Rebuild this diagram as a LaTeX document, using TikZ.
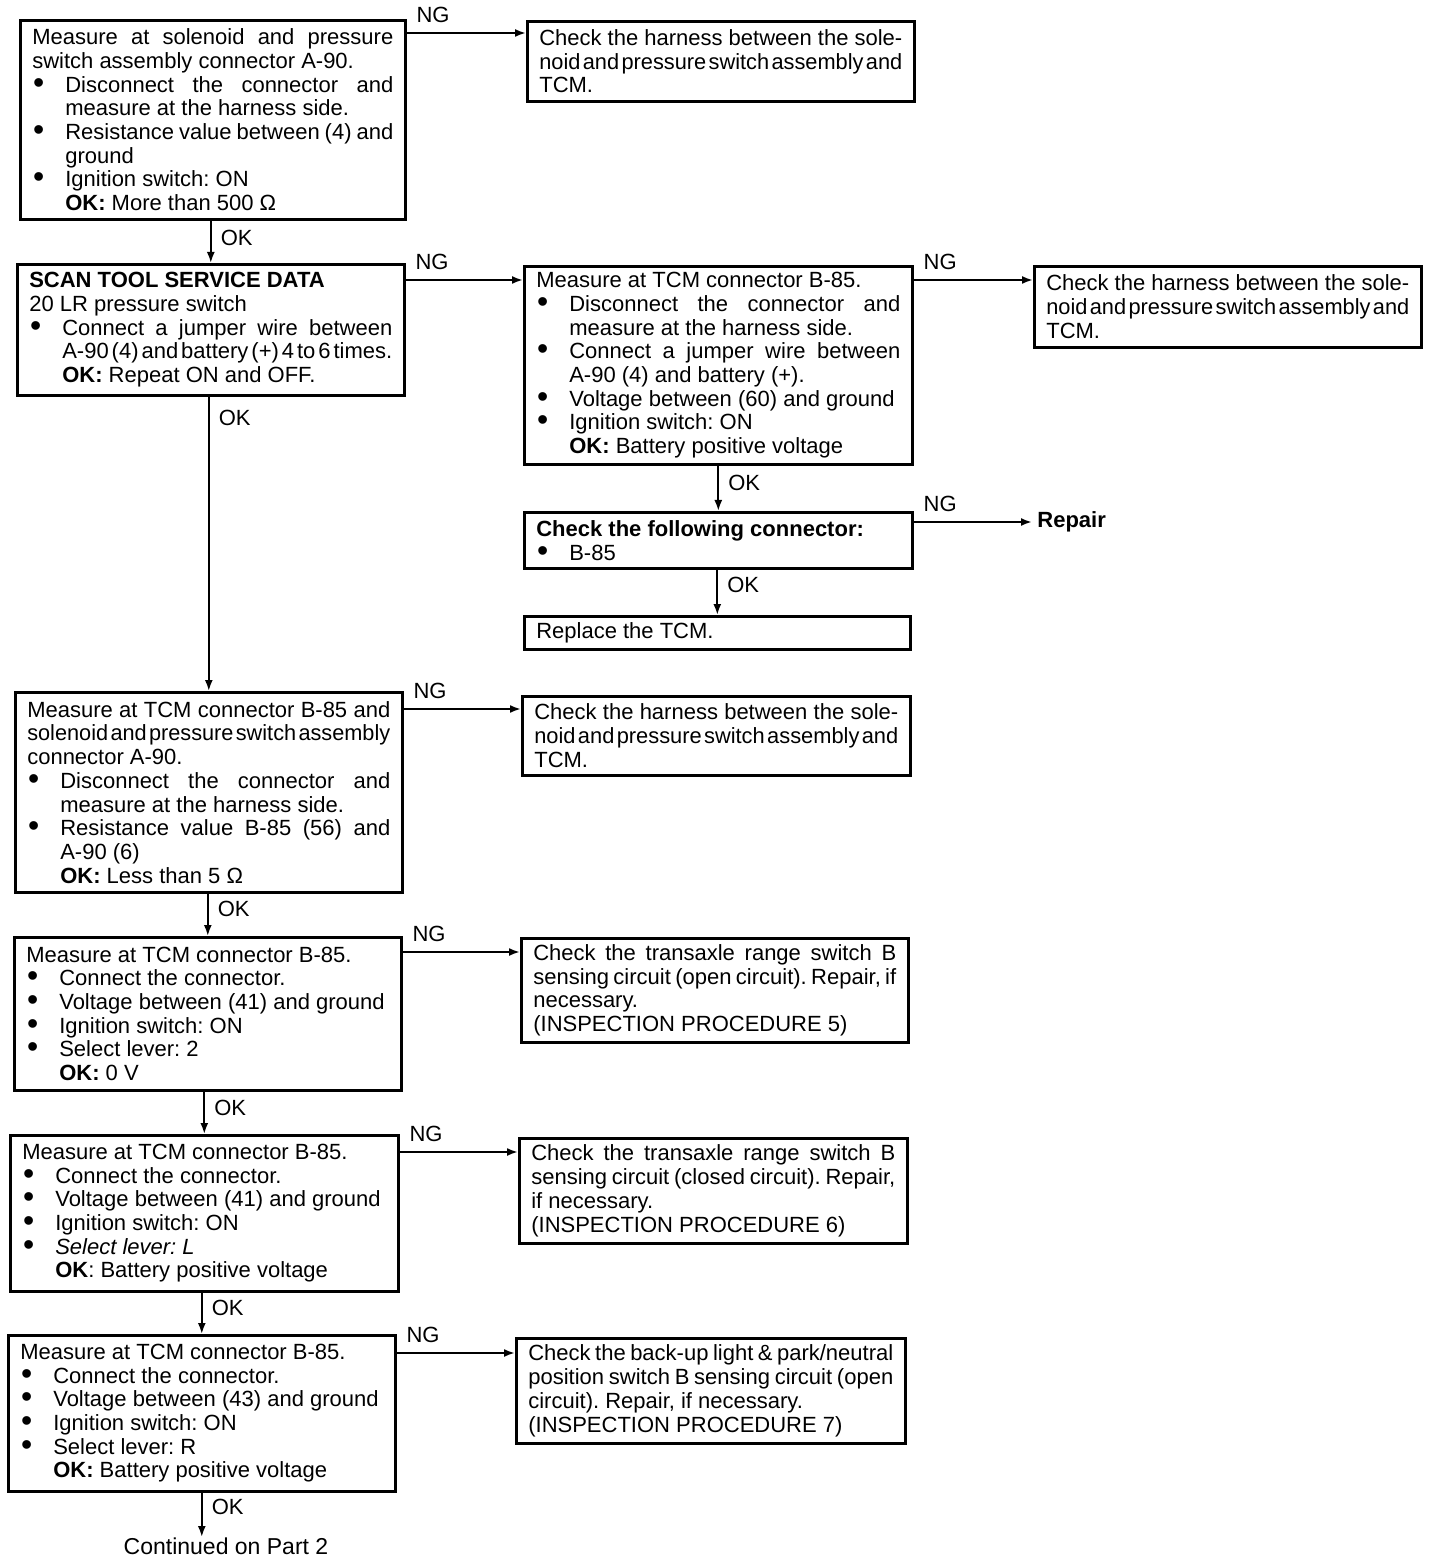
\documentclass[tikz,border=0pt]{standalone}
\usepackage{fontspec}
\setmainfont{Liberation Sans}
\usepackage{graphicx}
\usetikzlibrary{arrows.meta,calc}
\newsavebox\jbox
\newlength\jw
\newlength\bind \setlength\bind{16.5pt}
\newcommand\jl[2]{\setlength\jw{#1}\sbox\jbox{\spaceskip=0pt\relax#2}%
  \ifdim\wd\jbox>\jw
    \sbox\jbox{\spaceskip=1.2pt\relax#2}%
    \ifdim\wd\jbox>\jw \resizebox{\jw}{\height}{\usebox\jbox}%
    \else \makebox[\jw][s]{\spaceskip=1.2pt plus 1fil\relax#2}\fi
  \else\makebox[\jw][s]{\spaceskip=\fontdimen2\font plus 1fil\relax#2}\fi}
\newcommand\bu{\makebox[\bind][l]{\hspace{0.4pt}\smash{\raisebox{-0.5pt}{\scalebox{1.45}{•}}}}}
\newcommand\ind{\hspace*{\bind}}
\newcommand\bj[1]{\bu\jl{\dimexpr\linewidth-\bind\relax}{#1}}
\newcommand\fj[1]{\jl{\linewidth}{#1}}
\newcommand\rsp{\spaceskip=0pt\xspaceskip=0pt\frenchspacing}
\begin{document}
\begin{tikzpicture}[x=0.5pt,y=-0.5pt,
  box/.style={draw, line width=1.3pt, rectangle, anchor=north west, inner xsep=6pt, inner ysep=0pt, align=left, font=\fontsize{11}{11.85}\selectfont, execute at begin node=\rsp},
  arr/.style={line width=1pt, -{Latex[length=5.5pt,width=4pt]}},
  lab/.style={inner sep=0pt, font=\fontsize{11}{12}\selectfont},
  ng/.style={lab, anchor=south west, pos=0, xshift=4.5pt, yshift=4.8pt},
  ok/.style={lab, anchor=west, xshift=4.5pt}]
\useasboundingbox (0,0) rectangle (1440,1566);
\fill[white] (0,0) rectangle (1440,1566);

% left column
\node[box, text width=180.5pt, minimum width=192.5pt, minimum height=99.5pt] (B1) at (19,19)
 {\rsp\fj{Measure at solenoid and pressure}\\
  switch assembly connector A-90.\\
  \bj{Disconnect the connector and}\\
  \ind measure at the harness side.\\
  \bj{Resistance value between (4) and}\\
  \ind ground\\
  \bu Ignition switch: ON\\
  \ind\textbf{OK:} More than 500 Ω};

\node[box, text width=181.5pt, minimum width=193.5pt, minimum height=65.5pt] (B2) at (16,263)
 {\rsp\textbf{SCAN TOOL SERVICE DATA}\\
  20 LR pressure switch\\
  \bj{Connect a jumper wire between}\\
  \ind\jl{\dimexpr\linewidth-\bind\relax}{A-90 (4) and battery (+) 4 to 6 times.}\\
  \ind\textbf{OK:} Repeat ON and OFF.};

\node[box, text width=181.5pt, minimum width=193.5pt, minimum height=100pt] (B6) at (14,691)
 {\rsp\fj{Measure at TCM connector B-85 and}\\
  \fj{solenoid and pressure switch assembly}\\
  connector A-90.\\
  \bj{Disconnect the connector and}\\
  \ind measure at the harness side.\\
  \bj{Resistance value B-85 (56) and}\\
  \ind A-90 (6)\\
  \ind\textbf{OK:} Less than 5 Ω};

\node[box, text width=181.5pt, minimum width=193.5pt, minimum height=76.5pt] (B7) at (13,936)
 {\rsp Measure at TCM connector B-85.\\
  \bu Connect the connector.\\
  \bu\mbox{Voltage between (41) and ground}\\
  \bu Ignition switch: ON\\
  \bu Select lever: 2\\
  \ind\textbf{OK:} 0 V};

\node[box, text width=182pt, minimum width=194pt, minimum height=78pt] (B8) at (9,1134)
 {\rsp Measure at TCM connector B-85.\\
  \bu Connect the connector.\\
  \bu\mbox{Voltage between (41) and ground}\\
  \bu Ignition switch: ON\\
  \bu \textit{Select lever: L}\\
  \ind\textbf{OK}: Battery positive voltage};

\node[box, text width=181.5pt, minimum width=193.5pt, minimum height=78pt] (B9) at (7,1334)
 {\rsp Measure at TCM connector B-85.\\
  \bu Connect the connector.\\
  \bu\mbox{Voltage between (43) and ground}\\
  \bu Ignition switch: ON\\
  \bu Select lever: R\\
  \ind\textbf{OK:} Battery positive voltage};

% middle column
\node[box, text width=181.5pt, minimum width=193.5pt, minimum height=40pt] (C1) at (526,20)
 {\rsp\fj{Check the harness between the sole-}\\
  \fj{noid and pressure switch assembly and}\\
  TCM.};

\node[box, text width=182pt, minimum width=194pt, minimum height=99pt] (B3) at (523,265)
 {\rsp Measure at TCM connector B-85.\\
  \bj{Disconnect the connector and}\\
  \ind measure at the harness side.\\
  \bj{Connect a jumper wire between}\\
  \ind A-90 (4) and battery (+).\\
  \bu\mbox{Voltage between (60) and ground}\\
  \bu Ignition switch: ON\\
  \ind\textbf{OK:} Battery positive voltage};

\node[box, text width=182pt, minimum width=194pt, minimum height=28pt] (B4) at (523,511)
 {\rsp\textbf{Check the following connector:}\\
  \bu B-85};

\node[box, text width=181pt, minimum width=193pt, minimum height=16.5pt] (B5) at (523,615)
 {\rsp Replace the TCM.};

\node[box, text width=182pt, minimum width=194pt, minimum height=39.5pt] (C6) at (521,695)
 {\rsp\fj{Check the harness between the sole-}\\
  \fj{noid and pressure switch assembly and}\\
  TCM.};

\node[box, text width=181.5pt, minimum width=193.5pt, minimum height=52pt] (C7) at (520,937)
 {\rsp\fj{Check the transaxle range switch B}\\
  \fj{sensing circuit (open circuit). Repair, if}\\
  necessary.\\
  (INSPECTION PROCEDURE 5)};

\node[box, text width=182pt, minimum width=194pt, minimum height=52.5pt] (C8) at (518,1137)
 {\rsp\fj{Check the transaxle range switch B}\\
  \fj{sensing circuit (closed circuit). Repair,}\\
  if necessary.\\
  (INSPECTION PROCEDURE 6)};

\node[box, text width=182.5pt, minimum width=194.5pt, minimum height=52.5pt] (C9) at (515,1337)
 {\rsp\fj{Check the back-up light \& park/neutral}\\
  \fj{position switch B sensing circuit (open}\\
  circuit). Repair, if necessary.\\
  (INSPECTION PROCEDURE 7)};

% right column
\node[box, text width=181.5pt, minimum width=193.5pt, minimum height=40.5pt] (C3) at (1033,265)
 {\rsp\fj{Check the harness between the sole-}\\
  \fj{noid and pressure switch assembly and}\\
  TCM.};

\node[lab, anchor=west, inner sep=2.5pt, font=\fontsize{11}{12}\selectfont\bfseries] (rep) at (1032,522) {Repair};

\node[lab, anchor=north, font=\fontsize{11.5}{12}\selectfont] (cont) at (226,1537) {Continued on Part 2};

% NG connectors
\coordinate (a1) at ($(B1.north east)+(0,14)$);
\draw[arr] (a1) -- node[ng]{NG} (a1 -| C1.west);
\coordinate (a2) at ($(B2.north east)+(0,17)$);
\draw[arr] (a2) -- node[ng]{NG} (a2 -| B3.west);
\coordinate (a3) at ($(B3.north east)+(0,15)$);
\draw[arr] (a3) -- node[ng]{NG} (a3 -| C3.west);
\coordinate (a4) at ($(B4.north east)+(0,11)$);
\draw[arr] (a4) -- node[ng]{NG} (rep.west);
\coordinate (a6) at ($(B6.north east)+(0,18)$);
\draw[arr] (a6) -- node[ng]{NG} (a6 -| C6.west);
\coordinate (a7) at ($(B7.north east)+(0,16)$);
\draw[arr] (a7) -- node[ng]{NG} (a7 -| C7.west);
\coordinate (a8) at ($(B8.north east)+(0,18)$);
\draw[arr] (a8) -- node[ng]{NG} (a8 -| C8.west);
\coordinate (a9) at ($(B9.north east)+(0,19)$);
\draw[arr] (a9) -- node[ng]{NG} (a9 -| C9.west);

% OK connectors
\draw[arr] (B1.south -| B2.north) -- node[ok, pos=0.4]{OK} (B2.north);
\draw[arr] (B2.south -| B6.north) -- node[ok, pos=0.074]{OK} (B6.north);
\draw[arr] (B3.south -| B4.north) -- node[ok, pos=0.375]{OK} (B4.north);
\draw[arr] (B4.south -| B5.north) -- node[ok, pos=0.33]{OK} (B5.north);
\draw[arr] (B6.south -| B7.north) -- node[ok, pos=0.36]{OK} (B7.north);
\draw[arr] (B7.south -| B8.north) -- node[ok, pos=0.38]{OK} (B8.north);
\draw[arr] (B8.south -| B9.north) -- node[ok, pos=0.36]{OK} (B9.north);
\draw[arr] (B9.south) -- node[ok, pos=0.33]{OK} (B9.south |- cont.north);
\end{tikzpicture}
\end{document}
